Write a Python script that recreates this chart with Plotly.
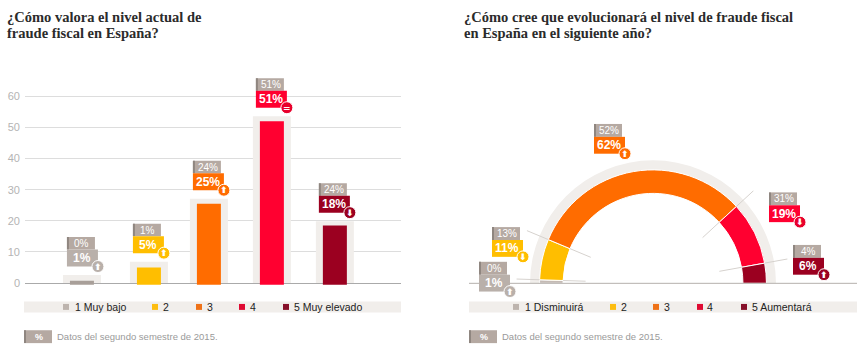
import plotly.graph_objects as go

W, H = 860, 361
FONT = "Liberation Sans"
DY = 2

# --- data, left chart
bar_categories = ["1 Muy bajo", "2", "3", "4", "5 Muy elevado"]
bar_current = [0.8, 5, 25.5, 52, 18.5]
bar_previous = [2.6, 6.9, 27.1, 53.6, 19.9]
bar_label_current = ["1%", "5%", "25%", "51%", "18%"]
bar_label_previous = ["0%", "1%", "24%", "51%", "24%"]
bar_trend = ["up", "up", "up", "equal", "down"]

# --- data, right chart
gauge_categories = ["1 Disminuirá", "2", "3", "4", "5 Aumentará"]
gauge_shares = [1, 11.6, 63.7, 18, 5.7]
gauge_label_current = ["1%", "11%", "62%", "19%", "6%"]
gauge_label_previous = ["0%", "13%", "52%", "31%", "4%"]
gauge_trend = ["up", "down", "up", "down", "up"]

y_ticks = [0, 10, 20, 30, 40, 50, 60]

# --- styles
COLORS = ["#a89f99", "#ffbe00", "#ff6c00", "#ff0030", "#9b0020"]
GAUGE_COLORS = ["#c4bab4", "#ffbe00", "#ff6c00", "#ff0030", "#9b0020"]
BADGE_COLORS = ["#b9b0aa", "#ffbe00", "#ff6c00", "#e8002c", "#9b0020"]
LEGEND_COLORS = ["#bdb4ae", "#fdbd10", "#ef7218", "#df0a32", "#87102a"]
BACK = "#f1eeeb"
PREV = "#b5a9a2"
EDGE = "#8f8680"
GLYPH = {"up": "⬆", "down": "⬇", "equal": "="}

shapes, notes = [], []


def px(x):
    return x / W


def py(y):
    return 1 - (y + DY) / H


def rect_paper(x0, x1, y0, y1, color):
    shapes.append(dict(type="rect", xref="paper", yref="paper", x0=px(x0), x1=px(x1),
                       y0=py(y0), y1=py(y1), fillcolor=color, line_width=0, layer="above"))


def text_paper(x, y, text, size, color, anchor="left", family=FONT, bold=False):
    notes.append(dict(xref="paper", yref="paper", x=px(x - 2 if anchor == "left" else x), y=py(y),
                      text=f"<b>{text}</b>" if bold else text,
                      showarrow=False, xanchor=anchor, yanchor="middle", align="left",
                      font=dict(size=size, color=color, family=family)))


def circle_paper(cx, cy, color):
    shapes.append(dict(type="circle", xref="paper", yref="paper", x0=px(cx - 6), x1=px(cx + 6),
                       y0=py(cy + 6), y1=py(cy - 6), fillcolor=color,
                       line=dict(color="#ffffff", width=1), layer="above"))


def rect_data(idx, val, x0, x1, y0, y1, color):
    shapes.append(dict(type="rect", xref="x", yref="y", xsizemode="pixel", ysizemode="pixel",
                       xanchor=idx, yanchor=val, x0=x0, x1=x1, y0=y0, y1=y1,
                       fillcolor=color, line_width=0, layer="above"))


def text_data(idx, val, dx, dy, text, size, color, bold=False, family=FONT):
    notes.append(dict(xref="x", yref="y", x=idx, y=val, xshift=dx, yshift=dy, xanchor="center", yanchor="middle",
                      text=f"<b>{text}</b>" if bold else text, showarrow=False,
                      font=dict(size=size, color=color, family=family)))


fig = go.Figure()

# --- left chart
BAR_W = 24 / 63
BACK_W = 38 / 63
nudge = [-1, 3, 0, 0, 0]
fig.add_trace(go.Bar(x=bar_categories, y=bar_previous, width=BACK_W,
                     offset=[-BACK_W / 2 + n / 63 for n in nudge],
                     marker=dict(color=BACK, line_width=0), hoverinfo="skip"))
fig.add_trace(go.Bar(x=bar_categories, y=[v + 0.5 for v in bar_current], base=-0.5, width=BAR_W,
                     offset=[-BAR_W / 2 + n / 63 for n in nudge],
                     marker=dict(color=COLORS, line_width=0), hoverinfo="skip"))

for i in range(len(bar_categories)):
    val = bar_previous[i]
    left = -16 + (nudge[i] if i == 1 else 0)
    rect_data(i, val, left, left + 28, 25.5, 38, PREV)
    rect_data(i, val, left, left + 2, 25.5, 38, EDGE)
    rect_data(i, val, left, left + 31, 8.5, 25.5, BADGE_COLORS[0] if i == 0 else COLORS[i])
    shapes.append(dict(type="circle", xref="x", yref="y", xsizemode="pixel", ysizemode="pixel",
                       xanchor=i, yanchor=val, x0=left + 25, x1=left + 37, y0=2.5, y1=14.5,
                       fillcolor=BADGE_COLORS[i], line=dict(color="#ffffff", width=1), layer="above"))
    text_data(i, val, left + 15, 31.5, bar_label_previous[i], 10, "#ffffff")
    text_data(i, val, left + 15, 17, bar_label_current[i], 12, "#ffffff", bold=True)
    text_data(i, val, left + 31, 8.5, GLYPH[bar_trend[i]], 9, "#ffffff", bold=True, family="DejaVu Sans")

# --- right chart
angles_start, total = [], sum(gauge_shares)
acc = 0
for s in gauge_shares:
    angles_start.append(180 - acc / total * 180)
    acc += s
gauge_width = [s / total * 180 for s in gauge_shares]
gauge_theta = [a - w / 2 for a, w in zip(angles_start, gauge_width)]

R_MAX = 138
fig.add_trace(go.Barpolar(theta=[90], width=[180], base=[114.4], r=[9.6],
                          marker=dict(color=BACK, line_width=0), hoverinfo="skip", subplot="polar"))
fig.add_trace(go.Barpolar(theta=gauge_theta, width=gauge_width, base=[90.7] * 5, r=[23.7] * 5,
                          marker=dict(color=GAUGE_COLORS, line=dict(color="#ffffff", width=1)),
                          hoverinfo="skip", subplot="polar"))
guide_theta, guide_r = [], []
for a in angles_start[1:]:
    guide_theta += [a, a, None, a, a, None]
    guide_r += [68, 90.7, None, 114.4, 138, None]
fig.add_trace(go.Scatterpolar(theta=guide_theta, r=guide_r, mode="lines", subplot="polar",
                              line=dict(color="#d6d2ce", width=1), hoverinfo="skip"))

# baseline of the gauge
shapes.append(dict(type="line", xref="paper", yref="paper", x0=px(469), x1=px(857), y0=py(283.7), y1=py(283.7),
                   line=dict(color="#b5b0ac", width=1), layer="above"))

gauge_boxes = [(479, 275), (492, 240), (594, 136), (769, 205), (793, 258)]
for i, (bx, by) in enumerate(gauge_boxes):
    rect_paper(bx, bx + 28, by - 13, by, PREV)
    rect_paper(bx, bx + 2, by - 13, by, EDGE)
    rect_paper(bx, bx + 31, by, by + 17, BADGE_COLORS[0] if i == 0 else COLORS[i])
    circle_paper(bx + 31, by + 17, BADGE_COLORS[i])
    text_paper(bx + 15, by - 6.5, gauge_label_previous[i], 10, "#ffffff", "center")
    text_paper(bx + 15, by + 8.5, gauge_label_current[i], 12, "#ffffff", "center", bold=True)
    text_paper(bx + 31, by + 17, GLYPH[gauge_trend[i]], 9, "#ffffff", "center", family="DejaVu Sans", bold=True)

# legends
for x0, x1, squares, texts, labels in [
    (24, 401, [63, 152, 196, 239, 283], [75, 163, 207, 250, 294], bar_categories),
    (469, 857, [513, 610, 653, 697, 741], [525, 621, 664, 707, 752], gauge_categories),
]:
    rect_paper(x0, x1, 302, 313, BACK)
    for s, t, lab, c in zip(squares, texts, labels, LEGEND_COLORS):
        rect_paper(s, s + 6, 304.5, 310.5, c)
        text_paper(t, 307.5, lab, 10.5, "#222222")
    rect_paper(x0, x0 + 28, 331, 344, PREV)
    rect_paper(x0, x0 + 2, 331, 344, EDGE)
    text_paper(x0 + 15, 337.5, "%", 9, "#ffffff", "center", bold=True)
    text_paper(x0 + 33, 337.5, "Datos del segundo semestre de 2015.", 9.5, "#9a9a9a")

# titles
for x, lines in [(7, ["¿Cómo valora el nivel actual de", "fraude fiscal en España?"]),
                 (464, ["¿Cómo cree que evolucionará el nivel de fraude fiscal", "en España en el siguiente año?"])]:
    for y, t in zip([15, 31], lines):
        text_paper(x, y, t, 14.5, "#2b2b2b", family="Liberation Serif", bold=True)

y_bottom, y_top = -1, 70
fig.update_layout(
    width=W, height=H, margin=dict(l=0, r=0, t=0, b=0), paper_bgcolor="#ffffff", plot_bgcolor="rgba(0,0,0,0)",
    showlegend=False, barmode="overlay",
    xaxis=dict(domain=[px(25), px(401)], type="category", range=[-0.92, 5.05], showticklabels=False,
               showgrid=False, zeroline=False, showline=False, ticks=""),
    yaxis=dict(domain=[py(283.5 + 3.14), py(283.5 - 70 * 3.14)], range=[y_bottom, y_top], tickvals=y_ticks,
               showgrid=True, gridcolor="#dddddd", gridwidth=1, zeroline=True, zerolinecolor="#aaaaaa",
               zerolinewidth=1, showline=False, ticks="", tickfont=dict(size=11, color="#b4b4b4", family=FONT),
               ticklabelstandoff=4),
    polar=dict(domain=dict(x=[px(653 - R_MAX), px(653 + R_MAX)], y=[py(283.7), py(283.7 - R_MAX)]),
               sector=[0, 180], bgcolor="rgba(0,0,0,0)", barmode="overlay",
               radialaxis=dict(visible=False, range=[0, R_MAX]),
               angularaxis=dict(visible=False)),
    shapes=shapes, annotations=notes,
)

fig.write_html("out.html", config=dict(displayModeBar=False),
               post_script="document.body.style.margin='0';document.body.style.overflow='hidden';")
